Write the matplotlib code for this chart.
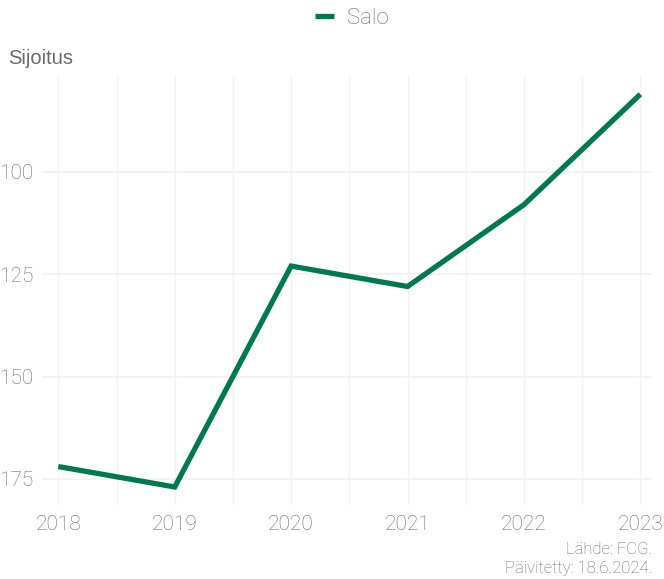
import matplotlib.pyplot as plt
from matplotlib.ticker import MultipleLocator

years = [2018, 2019, 2020, 2021, 2022, 2023]
rank = [172, 177, 123, 128, 108, 81]
series_name = "Salo"
y_ticks = [100, 125, 150, 175]

green = "#007a4d"
text_grey = "#6c6c6c"
grid_col = "#f2f2f2"

plt.rcParams['font.family'] = ['Roboto', 'DejaVu Sans']

fig = plt.figure(figsize=(6.64, 5.79), dpi=100)
ax = fig.add_axes([42 / 664, 1 - 505 / 579, (652 - 42) / 664, (505 - 75) / 579])

ax.plot(years, rank, color=green, lw=3.8, solid_capstyle='butt',
        solid_joinstyle='miter', label=series_name, zorder=3)

ax.set_xlim(2017.86, 2023.1)
ax.set_ylim(181.4, 76.3)
ax.set_xticks(years)
ax.xaxis.set_minor_locator(MultipleLocator(0.5))
ax.set_yticks(y_ticks)
ax.grid(True, which='both', axis='x', color=grid_col, lw=1)
ax.grid(True, which='major', axis='y', color=grid_col, lw=1.3)
for s in ax.spines.values():
    s.set_visible(False)
ax.tick_params(which='both', length=0)
ax.tick_params(axis='both', labelsize=15, labelcolor=text_grey)
ax.tick_params(axis='y', pad=6)
ax.tick_params(axis='x', pad=7)
for lab in ax.get_xticklabels() + ax.get_yticklabels():
    lab.set_fontweight('light')

fig.text(8 / 664, 1 - 58 / 579, "Sijoitus", fontsize=14.5, color=text_grey,
         family=['Liberation Sans', 'DejaVu Sans'], va='center', ha='left')

leg = fig.legend(loc='center', bbox_to_anchor=(352 / 664, 1 - 18 / 579), frameon=False,
                 fontsize=16, handlelength=0.85, handletextpad=0.6)
for t in leg.get_texts():
    t.set_color(text_grey)
    t.set_fontweight('light')

fig.text(652 / 664, 1 - 550 / 579, "Lähde: FCG.", fontsize=12, color=text_grey,
         ha='right', va='center', fontweight='light')
fig.text(652 / 664, 1 - 568 / 579, "Päivitetty: 18.6.2024.", fontsize=12, color=text_grey,
         ha='right', va='center', fontweight='light')

fig.savefig("out.png", dpi=100)
